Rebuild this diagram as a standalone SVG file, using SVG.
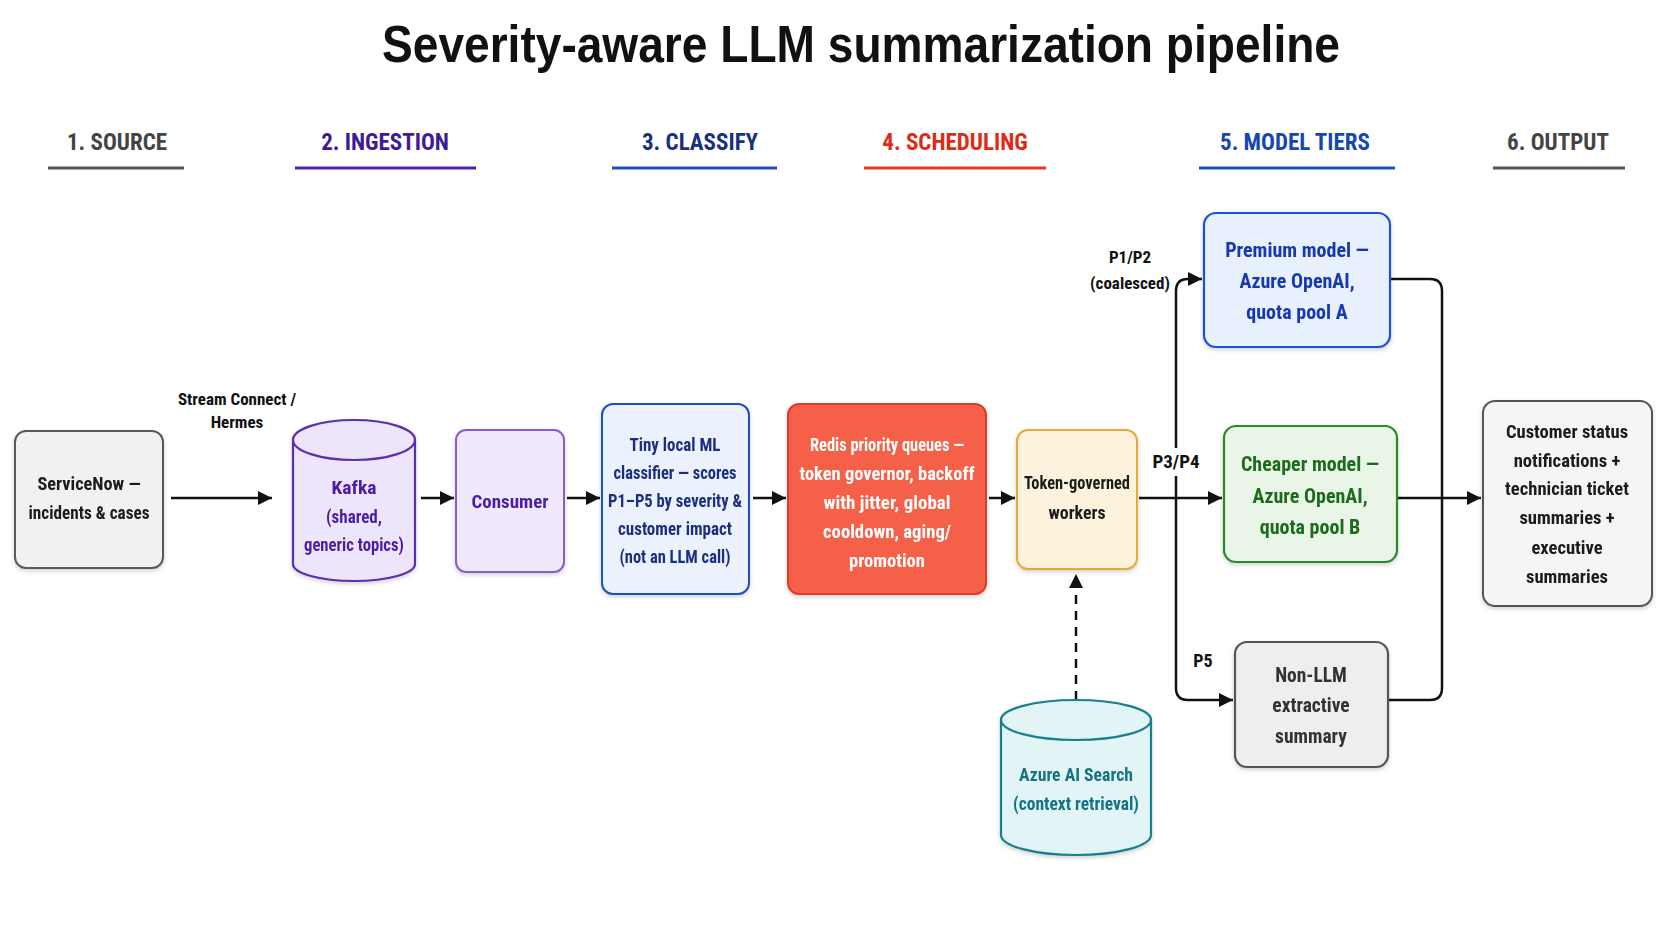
<svg xmlns="http://www.w3.org/2000/svg" width="1672" height="941" viewBox="0 0 1672 941">
<defs>
<style>
.title{font-family:'Liberation Sans',Arial,sans-serif;font-weight:700;font-size:52px;fill:#111;text-anchor:middle}
.hd{font-family:'Liberation Sans Narrow','Roboto Condensed','DejaVu Sans Condensed','Liberation Sans',sans-serif;font-weight:700;font-size:23px;text-anchor:middle}
.t{font-family:'Liberation Sans Narrow','Roboto Condensed','DejaVu Sans Condensed','Liberation Sans',sans-serif;font-weight:700;font-size:19px;text-anchor:middle}
.lbl{font-family:'Liberation Sans Narrow','Roboto Condensed','DejaVu Sans Condensed','Liberation Sans',sans-serif;font-weight:700;font-size:17px;text-anchor:middle;fill:#111}
.ul{stroke-width:3;fill:none}
.c{fill:none;stroke:#111;stroke-width:2.5;stroke-linejoin:round}
</style>
<marker id="ah" markerUnits="userSpaceOnUse" markerWidth="14" markerHeight="14" refX="14" refY="7" orient="auto">
<path d="M0,0 L14,7 L0,14 z" fill="#111"/>
</marker>
<filter id="sh" x="-10%" y="-10%" width="120%" height="125%">
<feDropShadow dx="0" dy="2" stdDeviation="2" flood-color="#000" flood-opacity="0.18"/>
</filter>
</defs>
<rect width="1672" height="941" fill="#ffffff"/>
<text class="title" x="861" y="62" textLength="958" lengthAdjust="spacingAndGlyphs">Severity-aware LLM summarization pipeline</text>

<g id="headers">
<text class="hd" x="117" y="150" fill="#444">1. SOURCE</text>
<line class="ul" x1="48" y1="168" x2="184" y2="168" stroke="#555"/>
<text class="hd" x="385" y="150" fill="#3d1a9a">2. INGESTION</text>
<line class="ul" x1="295" y1="168" x2="476" y2="168" stroke="#4a22b0"/>
<text class="hd" x="700" y="150" fill="#1a2f80">3. CLASSIFY</text>
<line class="ul" x1="612" y1="168" x2="777" y2="168" stroke="#1f4db5"/>
<text class="hd" x="955" y="150" fill="#e02a18">4. SCHEDULING</text>
<line class="ul" x1="864" y1="168" x2="1046" y2="168" stroke="#e53a25"/>
<text class="hd" x="1295" y="150" fill="#1646b4">5. MODEL TIERS</text>
<line class="ul" x1="1199" y1="168" x2="1395" y2="168" stroke="#1a4fc0"/>
<text class="hd" x="1558" y="150" fill="#444">6. OUTPUT</text>
<line class="ul" x1="1493" y1="168" x2="1625" y2="168" stroke="#555"/>
</g>

<g id="connectors">
<path class="c" d="M171 498 H272" marker-end="url(#ah)"/>
<path class="c" d="M421 498 H454" marker-end="url(#ah)"/>
<path class="c" d="M567 498 H600" marker-end="url(#ah)"/>
<path class="c" d="M753 498 H786" marker-end="url(#ah)"/>
<path class="c" d="M989 498 H1015" marker-end="url(#ah)"/>
<path class="c" d="M1139 498 H1222" marker-end="url(#ah)"/>
<path class="c" d="M1176 498 V291 Q1176 279 1188 279 H1202" marker-end="url(#ah)"/>
<path class="c" d="M1176 498 V688 Q1176 700 1188 700 H1233" marker-end="url(#ah)"/>
<path class="c" d="M1390 279 H1430 Q1442 279 1442 291 V688 Q1442 700 1430 700 H1388"/>
<path class="c" d="M1397 498 H1481" marker-end="url(#ah)"/>
<path class="c" d="M1076 700 V574" stroke-dasharray="9 7" marker-end="url(#ah)"/>
<rect x="1150" y="448" width="52" height="28" fill="#ffffff"/>
<text class="lbl" x="237" y="405">Stream Connect /</text>
<text class="lbl" x="237" y="428">Hermes</text>
<text class="lbl" x="1130" y="263">P1/P2</text>
<text class="lbl" x="1130" y="289">(coalesced)</text>
<text class="lbl" x="1176" y="468" style="font-size:19px">P3/P4</text>
<text class="lbl" x="1203" y="667" style="font-size:18px">P5</text>
</g>

<g id="servicenow" filter="url(#sh)">
<rect x="15" y="431" width="148" height="137" rx="11" fill="#f1f1f1" stroke="#5a5a5a" stroke-width="2"/>
<text class="t" x="89" y="490" fill="#1a1a1a" textLength="103" lengthAdjust="spacingAndGlyphs">ServiceNow —</text>
<text class="t" x="89" y="519" fill="#1a1a1a" textLength="121" lengthAdjust="spacingAndGlyphs">incidents &amp; cases</text>
</g>

<g id="kafka" filter="url(#sh)">
<path d="M293 440 V564 A61 17 0 0 0 415 564 V440 A61 20 0 0 0 293 440 Z" fill="#ece5fb" stroke="#5b2db0" stroke-width="2.2"/>
<path d="M293 440 A61 20 0 0 0 415 440" fill="none" stroke="#5b2db0" stroke-width="2.2"/>
<text class="t" x="354" y="494" fill="#4b1fa5" textLength="45" lengthAdjust="spacingAndGlyphs">Kafka</text>
<text class="t" x="354" y="523" fill="#4b1fa5" textLength="56" lengthAdjust="spacingAndGlyphs">(shared,</text>
<text class="t" x="354" y="551" fill="#4b1fa5" textLength="100" lengthAdjust="spacingAndGlyphs">generic topics)</text>
</g>

<g id="consumer" filter="url(#sh)">
<rect x="456" y="430" width="108" height="142" rx="10" fill="#f0e9fc" stroke="#8a5cd0" stroke-width="2"/>
<text class="t" x="510" y="508" fill="#4b1fa5">Consumer</text>
</g>

<g id="classifier" filter="url(#sh)">
<rect x="602" y="404" width="147" height="190" rx="11" fill="#ecf2fd" stroke="#1f4fc0" stroke-width="2"/>
<text class="t" x="675" y="451" fill="#1a2f80" textLength="91" lengthAdjust="spacingAndGlyphs">Tiny local ML</text>
<text class="t" x="675" y="479" fill="#1a2f80" textLength="123" lengthAdjust="spacingAndGlyphs">classifier — scores</text>
<text class="t" x="675" y="507" fill="#1a2f80" textLength="134" lengthAdjust="spacingAndGlyphs">P1–P5 by severity &amp;</text>
<text class="t" x="675" y="535" fill="#1a2f80" textLength="114" lengthAdjust="spacingAndGlyphs">customer impact</text>
<text class="t" x="675" y="563" fill="#1a2f80" textLength="111" lengthAdjust="spacingAndGlyphs">(not an LLM call)</text>
</g>

<g id="redis" filter="url(#sh)">
<rect x="788" y="404" width="198" height="190" rx="11" fill="#f5614a" stroke="#e03a26" stroke-width="2"/>
<text class="t" x="887" y="451" fill="#ffffff" textLength="154" lengthAdjust="spacingAndGlyphs">Redis priority queues —</text>
<text class="t" x="887" y="480" fill="#ffffff" textLength="175" lengthAdjust="spacingAndGlyphs">token governor, backoff</text>
<text class="t" x="887" y="509" fill="#ffffff" textLength="127" lengthAdjust="spacingAndGlyphs">with jitter, global</text>
<text class="t" x="887" y="538" fill="#ffffff" textLength="128" lengthAdjust="spacingAndGlyphs">cooldown, aging/</text>
<text class="t" x="887" y="567" fill="#ffffff" textLength="76" lengthAdjust="spacingAndGlyphs">promotion</text>
</g>

<g id="workers" filter="url(#sh)">
<rect x="1017" y="430" width="120" height="139" rx="11" fill="#fdf3dc" stroke="#e8a93a" stroke-width="2"/>
<text class="t" x="1077" y="489" fill="#1a1a1a" textLength="106" lengthAdjust="spacingAndGlyphs">Token-governed</text>
<text class="t" x="1077" y="519" fill="#1a1a1a" textLength="57" lengthAdjust="spacingAndGlyphs">workers</text>
</g>

<g id="azure-search" filter="url(#sh)">
<path d="M1001 720 V835 A75 20 0 0 0 1151 835 V720 A75 20 0 0 0 1001 720 Z" fill="#e3f4f7" stroke="#17808c" stroke-width="2.2"/>
<path d="M1001 720 A75 20 0 0 0 1151 720" fill="none" stroke="#17808c" stroke-width="2.2"/>
<text class="t" x="1076" y="781" fill="#137380" textLength="114" lengthAdjust="spacingAndGlyphs">Azure AI Search</text>
<text class="t" x="1076" y="810" fill="#137380" textLength="126" lengthAdjust="spacingAndGlyphs">(context retrieval)</text>
</g>

<g id="premium" filter="url(#sh)">
<rect x="1204" y="213" width="186" height="134" rx="12" fill="#e8effd" stroke="#1f52d0" stroke-width="2.2"/>
<text class="t" x="1297" y="257" fill="#1638b0" style="font-size:20px">Premium model —</text>
<text class="t" x="1297" y="288" fill="#1638b0" style="font-size:20px">Azure OpenAI,</text>
<text class="t" x="1297" y="319" fill="#1638b0" style="font-size:20px">quota pool A</text>
</g>

<g id="cheaper" filter="url(#sh)">
<rect x="1224" y="426" width="173" height="136" rx="12" fill="#e9f5e6" stroke="#2a8a2a" stroke-width="2.2"/>
<text class="t" x="1310" y="471" fill="#1d6b1d" style="font-size:20px">Cheaper model —</text>
<text class="t" x="1310" y="503" fill="#1d6b1d" style="font-size:20px">Azure OpenAI,</text>
<text class="t" x="1310" y="534" fill="#1d6b1d" style="font-size:20px">quota pool B</text>
</g>

<g id="nonllm" filter="url(#sh)">
<rect x="1235" y="642" width="153" height="125" rx="12" fill="#eeeeee" stroke="#555" stroke-width="2.2"/>
<text class="t" x="1311" y="682" fill="#333" style="font-size:19.5px">Non-LLM</text>
<text class="t" x="1311" y="712" fill="#333" style="font-size:19.5px">extractive</text>
<text class="t" x="1311" y="743" fill="#333" style="font-size:19.5px">summary</text>
</g>

<g id="output" filter="url(#sh)">
<rect x="1483" y="401" width="169" height="205" rx="12" fill="#f5f5f5" stroke="#555" stroke-width="2"/>
<text class="t" x="1567" y="438" fill="#1a1a1a" style="font-size:18.6px">Customer status</text>
<text class="t" x="1567" y="467" fill="#1a1a1a" style="font-size:18.6px">notifications +</text>
<text class="t" x="1567" y="495" fill="#1a1a1a" style="font-size:18.6px">technician ticket</text>
<text class="t" x="1567" y="524" fill="#1a1a1a" style="font-size:18.6px">summaries +</text>
<text class="t" x="1567" y="554" fill="#1a1a1a" style="font-size:18.6px">executive</text>
<text class="t" x="1567" y="583" fill="#1a1a1a" style="font-size:18.6px">summaries</text>
</g>
</svg>
